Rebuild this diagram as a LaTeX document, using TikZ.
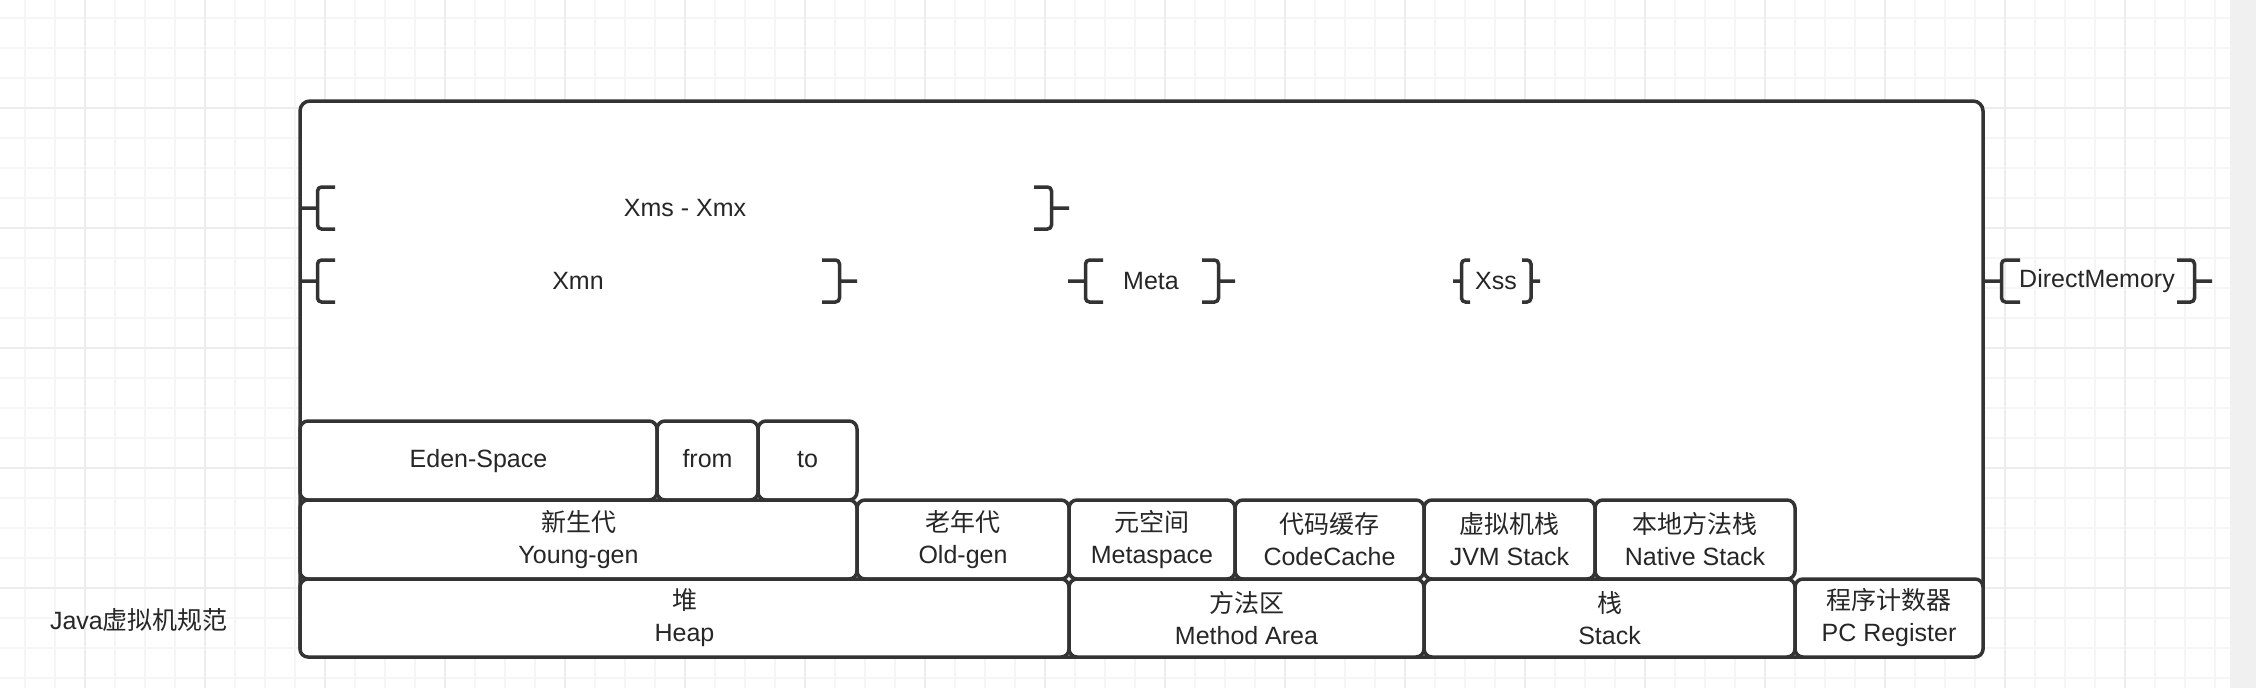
\documentclass[tikz,border=0pt]{standalone}
\usepackage{fontspec}
\setmainfont{Liberation Sans}
\newfontfamily\zh{Noto Sans CJK SC}
\usetikzlibrary{positioning}
\definecolor{linec}{HTML}{333333}
\definecolor{gridc}{HTML}{F5F5F5}
\definecolor{gridm}{HTML}{EDEDED}

\tikzset{
  pics/lcurl/.style={code={\draw[curl] (0,0) -- (#1/2,0) (#1,-21) -- (#1/2,-21) -- (#1/2,21) -- (#1,21);}},
  pics/rcurl/.style={code={\draw[curl] (0,0) -- (-#1/2,0) (-#1,-21) -- (-#1/2,-21) -- (-#1/2,21) -- (-#1,21);}},
}

\begin{document}
\begin{tikzpicture}[x=1pt, y=-1pt,
  box/.style={draw=linec, line width=3.5pt, rounded corners=8pt, fill=white, minimum height=79pt,
    outer sep=0pt, inner sep=0pt, align=center, text=black!85, font=\fontsize{25pt}{32pt}\selectfont},
  single/.style={text height=18pt, text depth=5pt},
  lbl/.style={text=black!85, font=\fontsize{25pt}{32pt}\selectfont},
  curl/.style={draw=linec, line width=3.5pt, rounded corners=4pt},
  gridline/.style={gridc, line width=1.5pt},
  gridmajor/.style={gridm, line width=1.5pt}]
\useasboundingbox (0,0) rectangle (2256,688);
% 背景网格
\fill[white] (0,0) rectangle (2230,688);
\foreach \x in {25,55,...,2215} \draw[gridline] (\x,0) -- (\x,688);
\foreach \y in {18,48,...,678} \draw[gridline] (0,\y) -- (2230,\y);
\foreach \x in {85,205,...,2125} \draw[gridmajor] (\x,0) -- (\x,688);
\foreach \y in {108,228,...,588} \draw[gridmajor] (0,\y) -- (2230,\y);
\fill[black!6] (2230,0) rectangle (2256,688);

% 外框
\node[box, rounded corners=10pt, minimum width=1683pt, minimum height=556pt, anchor=north west] (jvm) at (300,101) {};

% 第一行
\node[box, single, minimum width=357pt, anchor=north west] (eden) at (300,421) {Eden-Space};
\node[box, single, minimum width=101pt, right=0pt of eden] (from) {from};
\node[box, single, minimum width=99pt, right=0pt of from] (to) {to};

% 第二行
\node[box, minimum width=557pt, anchor=north west] (young) at (eden.south west) {{\zh 新生代}\\Young-gen};
\node[box, minimum width=212pt, right=0pt of young] (old) {{\zh 老年代}\\Old-gen};
\node[box, minimum width=166pt, right=0pt of old] (metaspace) {{\zh 元空间}\\Metaspace};
\node[box, minimum width=189pt, right=0pt of metaspace] (codecache) {{\zh 代码缓存}\\CodeCache};
\node[box, minimum width=171pt, right=0pt of codecache] (jvmstack) {{\zh 虚拟机栈}\\JVM Stack};
\node[box, minimum width=200pt, right=0pt of jvmstack] (native) {{\zh 本地方法栈}\\Native Stack};

% 第三行
\node[box, minimum width=769pt, minimum height=78pt, anchor=north west] (heap) at (young.south west) {{\zh 堆}\\Heap};
\node[box, minimum width=355pt, minimum height=78pt, right=0pt of heap] (method) {{\zh 方法区}\\Method Area};
\node[box, minimum width=371pt, minimum height=78pt, right=0pt of method] (stack) {{\zh 栈}\\Stack};
\node[box, minimum width=188pt, minimum height=78pt, right=0pt of stack] (pc) {{\zh 程序计数器}\\PC Register};

% 括号
\pic at (300,208) {lcurl=35};
\pic at (old.east |- 0,208) {rcurl=35};
\pic at (300,281) {lcurl=35};
\pic at (to.east |- 0,281) {rcurl=35};
\pic at (1068,281) {lcurl=35};
\pic at (metaspace.east |- 0,281) {rcurl=33};
\pic at (1453,281) {lcurl=17};
\pic at (1540,281) {rcurl=18};
\pic at (1983,281) {lcurl=37};
\pic at (2212,281) {rcurl=35};

% 标签
\node[lbl] (xms) at (685,208) {Xms - Xmx};
\node[lbl] (xmn) at (578,281) {Xmn};
\node[lbl] (meta) at (1151,281) {Meta};
\node[lbl] (xss) at (1496,281) {Xss};
\node[lbl] (direct) at (2097,281) {DirectMemory};
\node[lbl] (spec) at (139,620) {Java{\zh 虚拟机规范}};
\end{tikzpicture}
\end{document}
